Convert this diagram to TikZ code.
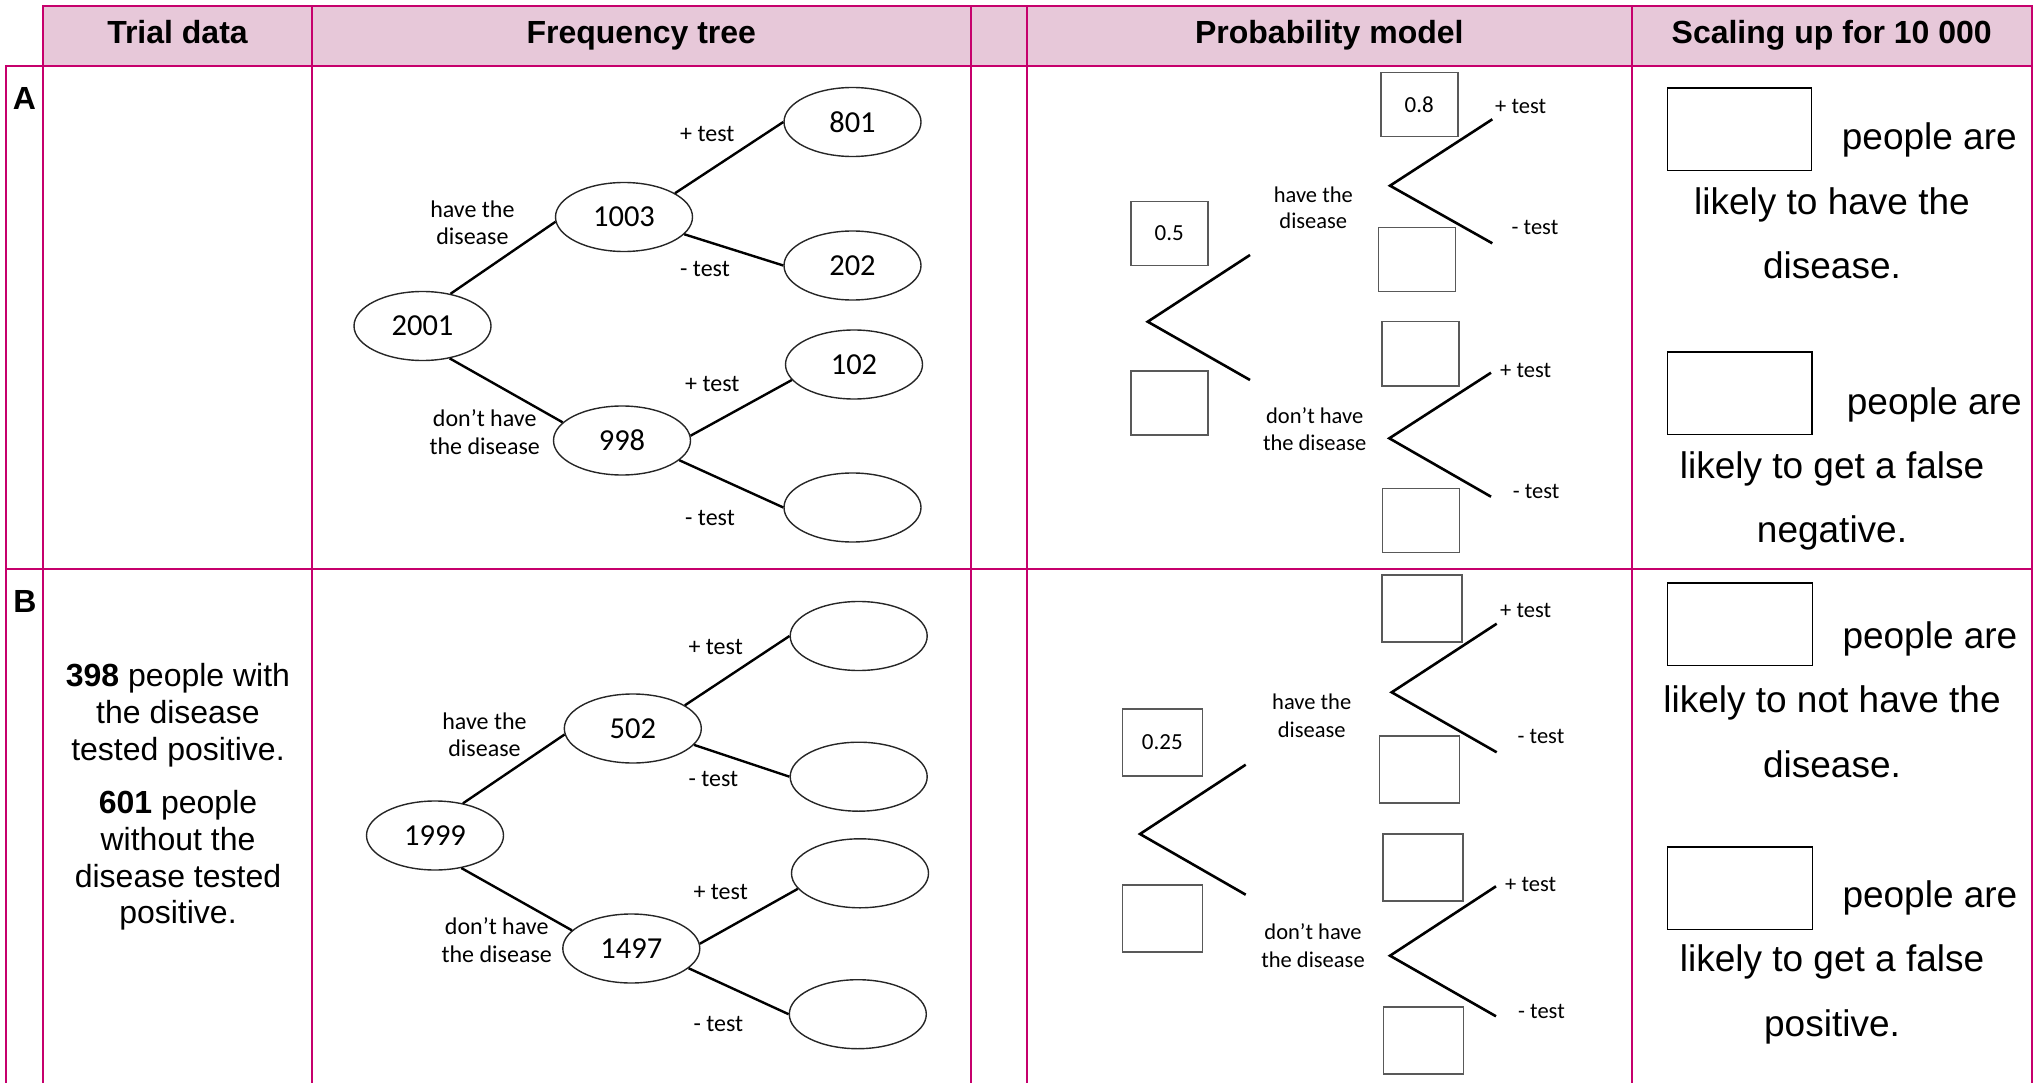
\documentclass[tikz,border=0pt]{standalone}
\usepackage{fontspec}
\setmainfont{Liberation Sans}
\newfontfamily\calib{Carlito}
\usetikzlibrary{shapes.geometric}
\definecolor{brd}{RGB}{198,0,108}
\definecolor{hdr}{RGB}{231,200,217}
\begin{document}
\begin{tikzpicture}[x=1pt,y=-1pt,
  tab/.style={draw=brd,line width=2pt,line cap=rect},
  ell/.style={ellipse,draw=black!85,line width=1.4pt,minimum width=137pt,minimum height=69pt,inner sep=0pt,font=\calib\fontsize{30.5}{36}\selectfont},
  conn/.style={line width=2.4pt,black},
  pconn/.style={line width=2.6pt,black},
  flab/.style={font=\calib\fontsize{24}{28}\selectfont,inner sep=0pt},
  plab/.style={font=\calib\fontsize{22.5}{27}\selectfont,inner sep=0pt},
  pbox/.style={draw=black!65,line width=1.6pt,minimum width=77pt,minimum height=64pt,inner sep=0pt,font=\calib\fontsize{23}{27}\selectfont},
  pboxb/.style={minimum width=80pt,minimum height=67pt},
  sbox/.style={draw=black,line width=1.3pt,minimum width=144.4pt,minimum height=82.7pt,inner sep=0pt},
  stxt/.style={font=\fontsize{37}{44}\selectfont,inner sep=0pt},
  ttxt/.style={font=\fontsize{32}{37}\selectfont,inner sep=0pt},
  htxt/.style={font=\bfseries\fontsize{32}{38}\selectfont,inner sep=0pt},
]
\useasboundingbox (0,0) rectangle (2040,1083);
% table
\fill[hdr] (43.3,5.7) rectangle (2031.7,65.7);
\draw[tab] (43.3,5.7) -- (2031.7,5.7);
\draw[tab] (5.7,65.7) -- (2031.7,65.7);
\draw[tab] (5.7,568.5) -- (2031.7,568.5);
\draw[tab] (5.7,65.7) -- (5.7,1083);
\foreach \xx in {43.3,311.7,971,1027,1631.7,2031.7} {\draw[tab] (\xx,5.7) -- (\xx,1083);}
% headers
\node[htxt,anchor=base] (hT) at (177.5,44) {Trial data};
\node[htxt,anchor=base] (hF) at (641.3,44) {Frequency tree};
\node[htxt,anchor=base] (hP) at (1329.3,44) {Probability model};
\node[htxt,anchor=base] (hS) at (1831.7,44) {Scaling up for 10 000};
\node[htxt,anchor=base] (rA) at (24.5,109.3) {A};
\node[htxt,anchor=base] (rB) at (25,612.3) {B};
% trial data B
\node[ttxt,anchor=base] (t1) at (178,686.3) {\textbf{398} people with};
\node[ttxt,anchor=base] (t2) at (178,723.7) {the disease};
\node[ttxt,anchor=base] (t3) at (178,760.3) {tested positive.};
\node[ttxt,anchor=base] (t4) at (178,813.7) {\textbf{601} people};
\node[ttxt,anchor=base] (t5) at (178,850.3) {without the};
\node[ttxt,anchor=base] (t6) at (178,887) {disease tested};
\node[ttxt,anchor=base] (t7) at (178,923.7) {positive.};
% frequency tree A
\node[ell] (a0) at (422.5,326) {2001};
\node[ell] (a1) at (624,217) {1003};
\node[ell] (a2) at (622,440.5) {998};
\node[ell] (a11) at (852.5,122) {801};
\node[ell] (a12) at (852.5,265.5) {202};
\node[ell] (a21) at (854,364.5) {102};
\node[ell] (a22) at (852.5,507.5) {};
\draw[conn] (a0.49) -- (a1.184);
\draw[conn] (a0.-50) -- (a2.163);
\draw[conn] (a1.25) -- (a11.west);
\draw[conn] (a1.-16) -- (a12.west);
\draw[conn] (a2.4) -- (a21.194);
\draw[conn] (a2.-19) -- (a22.west);
\node[flab,anchor=base] (la1) at (472.4,217.3) {have the};
\node[flab,anchor=base] (la1b) at (472.4,245) {disease};
\node[flab,anchor=base] (la2) at (484.7,426.7) {don’t have};
\node[flab,anchor=base] (la2b) at (484.7,454.3) {the disease};
\node[flab,anchor=base west] (la11) at (680,141.7) {+ test};
\node[flab,anchor=base west] (la12) at (680,276.7) {- test};
\node[flab,anchor=base west] (la21) at (685,391) {+ test};
\node[flab,anchor=base west] (la22) at (685,525) {- test};
% frequency tree B
\node[ell] (b0) at (435,835.5) {1999};
\node[ell] (b1) at (632.8,728.5) {502};
\node[ell] (b2) at (631.3,948.5) {1497};
\node[ell] (b11) at (858.7,636) {};
\node[ell] (b12) at (858.7,776.7) {};
\node[ell] (b21) at (860,873.3) {};
\node[ell] (b22) at (857.8,1014.2) {};
\draw[conn] (b0.49.5) -- (b1.185);
\draw[conn] (b0.-51) -- (b2.163.5);
\draw[conn] (b1.24) -- (b11.west);
\draw[conn] (b1.-15) -- (b12.west);
\draw[conn] (b2.4.5) -- (b21.194);
\draw[conn] (b2.-19.7) -- (b22.west);
\node[flab,anchor=base] (lb1) at (484.5,729) {have the};
\node[flab,anchor=base] (lb1b) at (484.5,756.3) {disease};
\node[flab,anchor=base] (lb2) at (496.7,934.7) {don’t have};
\node[flab,anchor=base] (lb2b) at (496.7,962) {the disease};
\node[flab,anchor=base west] (lb11) at (688.3,654) {+ test};
\node[flab,anchor=base west] (lb12) at (688.3,786.3) {- test};
\node[flab,anchor=base west] (lb21) at (693.3,899) {+ test};
\node[flab,anchor=base west] (lb22) at (693.3,1031.3) {- test};
% probability model A
\node[pbox] (pa0u) at (1169.2,233.5) {0.5};
\node[pbox] (pa0d) at (1169.2,402.8) {};
\node[pbox] (pa1u) at (1419.2,104.5) {0.8};
\node[pbox] (pa1d) at (1416.8,259.7) {};
\node[pbox] (pa2u) at (1420.3,353.7) {};
\node[pbox] (pa2d) at (1420.8,520.3) {};
\coordinate (pav0) at (1147.7,321.7);
\coordinate (pae1) at (1250,255);
\coordinate (pae2) at (1250,380);
\coordinate (pav1) at (1390,185.7);
\coordinate (pae11) at (1492.3,119.3);
\coordinate (pae12) at (1492.3,243.3);
\coordinate (pav2) at (1389.3,438.3);
\coordinate (pae21) at (1491,372.7);
\coordinate (pae22) at (1491,496.7);
\draw[pconn] (pae1) -- (pav0) -- (pae2);
\draw[pconn] (pae11) -- (pav1) -- (pae12);
\draw[pconn] (pae21) -- (pav2) -- (pae22);
\node[plab,anchor=base] (pla1) at (1313.3,202.7) {have the};
\node[plab,anchor=base] (pla1b) at (1313.3,229) {disease};
\node[plab,anchor=base] (pla2) at (1314.7,423.3) {don’t have};
\node[plab,anchor=base] (pla2b) at (1314.7,450) {the disease};
\node[plab,anchor=base west] (pla11) at (1495,113.3) {+ test};
\node[plab,anchor=base west] (pla12) at (1511.5,235) {- test};
\node[plab,anchor=base west] (pla21) at (1500,377.3) {+ test};
\node[plab,anchor=base west] (pla22) at (1512.7,498.3) {- test};
% probability model B
\node[pbox,pboxb] (pb0u) at (1162.3,742.2) {0.25};
\node[pbox,pboxb] (pb0d) at (1162.3,918.7) {};
\node[pbox,pboxb] (pb1u) at (1421.7,608.3) {};
\node[pbox,pboxb] (pb1d) at (1419.3,769.7) {};
\node[pbox,pboxb] (pb2u) at (1422.7,867.2) {};
\node[pbox,pboxb] (pb2d) at (1423.3,1040.3) {};
\coordinate (pbv0) at (1140,834);
\coordinate (pbe1) at (1245.7,764.7);
\coordinate (pbe2) at (1245.7,894.7);
\coordinate (pbv1) at (1391.7,692.3);
\coordinate (pbe11) at (1496.7,623.7);
\coordinate (pbe12) at (1496.7,752.3);
\coordinate (pbv2) at (1390,955.7);
\coordinate (pbe21) at (1496,886.3);
\coordinate (pbe22) at (1496,1016.3);
\draw[pconn] (pbe1) -- (pbv0) -- (pbe2);
\draw[pconn] (pbe11) -- (pbv1) -- (pbe12);
\draw[pconn] (pbe21) -- (pbv2) -- (pbe22);
\node[plab,anchor=base] (plb1) at (1311.7,709.7) {have the};
\node[plab,anchor=base] (plb1b) at (1311.7,737) {disease};
\node[plab,anchor=base] (plb2) at (1313,939.7) {don’t have};
\node[plab,anchor=base] (plb2b) at (1313,967) {the disease};
\node[plab,anchor=base west] (plb11) at (1500,617) {+ test};
\node[plab,anchor=base west] (plb12) at (1517.5,743) {- test};
\node[plab,anchor=base west] (plb21) at (1505,891.3) {+ test};
\node[plab,anchor=base west] (plb22) at (1518,1018) {- test};
% scaling A
\node[sbox] (sa1) at (1739.5,129.4) {};
\node[stxt,anchor=base west] (sa1t) at (1841.7,150) {people are};
\node[stxt,anchor=base] (sa1l) at (1832,215) {likely to have the};
\node[stxt,anchor=base] (sa1m) at (1832,279) {disease.};
\node[sbox] (sa2) at (1739.8,393.4) {};
\node[stxt,anchor=base west] (sa2t) at (1846.7,414) {people are};
\node[stxt,anchor=base] (sa2l) at (1832,478.3) {likely to get a false};
\node[stxt,anchor=base] (sa2m) at (1832,542.5) {negative.};
% scaling B
\node[sbox] (sb1) at (1740,624.3) {};
\node[stxt,anchor=base west] (sb1t) at (1842.3,648) {people are};
\node[stxt,anchor=base] (sb1l) at (1832,712.3) {likely to not have the};
\node[stxt,anchor=base] (sb1m) at (1832,777) {disease.};
\node[sbox] (sb2) at (1740,888.3) {};
\node[stxt,anchor=base west] (sb2t) at (1842.3,907) {people are};
\node[stxt,anchor=base] (sb2l) at (1832,971.3) {likely to get a false};
\node[stxt,anchor=base] (sb2m) at (1832,1036.3) {positive.};
\end{tikzpicture}
\end{document}
